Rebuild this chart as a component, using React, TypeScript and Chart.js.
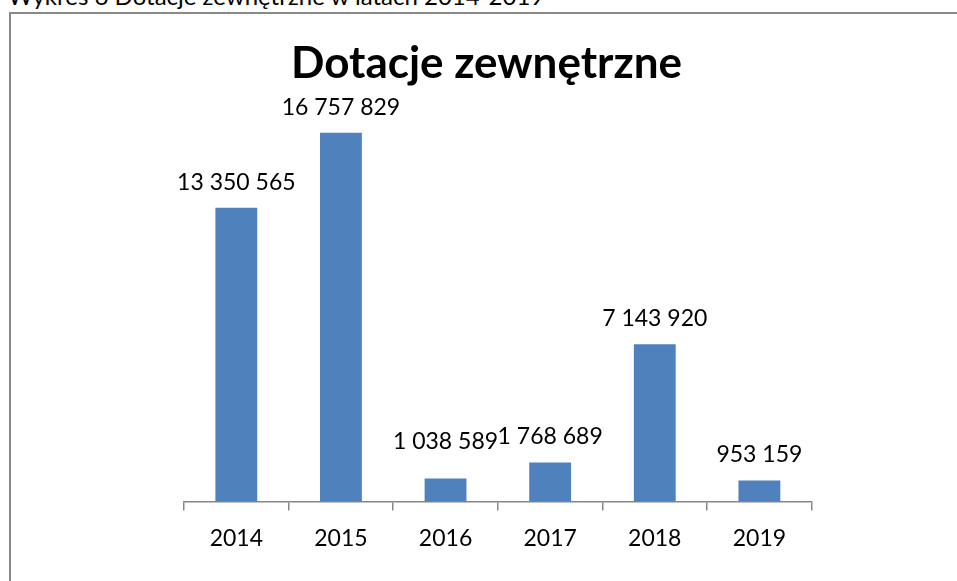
import React, { useEffect, useRef } from "react";
import { Chart, registerables } from "chart.js";

Chart.register(...registerables);

const years = ["2014", "2015", "2016", "2017", "2018", "2019"];
const grants = [13350565, 16757829, 1038589, 1768689, 7143920, 953159];
const yMax = 18000000;
const labelLift = [0, 0, 12, 0, 0, 0];

const pageCaption = "Wykres 6 Dotacje zewnętrzne w latach 2014-2019";
const chartTitle = "Dotacje zewnętrzne";

function fmt(v: number): string {
  return String(v).replace(/\B(?=(\d{3})+(?!\d))/g, " ");
}

const valueLabels = {
  id: "valueLabels",
  afterDatasetsDraw(chart: any) {
    const ctx = chart.ctx;
    const meta = chart.getDatasetMeta(0);
    ctx.save();
    ctx.font = "23px Lato";
    ctx.fillStyle = "#000";
    ctx.textAlign = "center";
    ctx.textBaseline = "alphabetic";
    meta.data.forEach((bar: any, i: number) => {
      ctx.fillText(fmt(grants[i]), bar.x, bar.y - 18 - labelLift[i]);
    });
    ctx.restore();
  },
};

const frame = {
  id: "frame",
  beforeDraw(chart: any) {
    const ctx = chart.ctx;
    ctx.save();
    ctx.strokeStyle = "#898989";
    ctx.lineWidth = 2;
    ctx.beginPath();
    ctx.moveTo(10, chart.height + 5);
    ctx.lineTo(10, 13);
    ctx.lineTo(chart.width + 5, 13);
    ctx.stroke();
    ctx.restore();
  },
};

export default function App() {
  const ref = useRef<HTMLCanvasElement | null>(null);
  useEffect(() => {
    if (!ref.current) return;
    const chart = new Chart(ref.current, {
      type: "bar",
      data: {
        labels: years,
        datasets: [
          {
            data: grants,
            backgroundColor: "#4F81BD",
            borderWidth: 0,
            barPercentage: 0.4,
            categoryPercentage: 1,
          },
        ],
      },
      plugins: [frame, valueLabels],
      options: {
        responsive: false,
        animation: false,
        layout: { padding: { left: 16, right: 0, top: 0, bottom: 15 } },
        plugins: {
          legend: { display: false },
          tooltip: { enabled: false },
          title: {
            display: true,
            text: chartTitle,
            color: "#000",
            font: { family: "Lato", size: 44, weight: "bold" },
            padding: { top: 37.6, bottom: 15 },
          },
        },
        scales: {
          x: {
            grid: {
              drawOnChartArea: false,
              color: "#868686",
              tickLength: 9,
              offset: true,
              lineWidth: 1.5,
            },
            border: { color: "#868686", width: 1.5 },
            ticks: { color: "#000", font: { family: "Lato", size: 23 }, padding: 14 },
          },
          y: {
            min: 0,
            max: yMax,
            ticks: { display: false },
            grid: { display: false },
            border: { display: false },
            afterFit: (s: any) => {
              s.width = 168;
            },
          },
          y2: {
            position: "right",
            ticks: { display: false },
            grid: { display: false },
            border: { display: false },
            afterFit: (s: any) => {
              s.width = 145.3;
            },
          },
        },
      },
    } as any);
    return () => chart.destroy();
  }, []);

  return (
    <div
      style={{
        position: "fixed",
        left: 0,
        top: 0,
        width: 957,
        height: 581,
        overflow: "hidden",
        background: "#fff",
      }}
    >
      <div
        style={{
          position: "absolute",
          left: 8,
          top: -19,
          font: "24px Lato",
          lineHeight: "30px",
          color: "#000",
          whiteSpace: "nowrap",
        }}
      >
        {pageCaption}
      </div>
      <canvas
        ref={ref}
        width={957}
        height={581}
        style={{ position: "absolute", left: 0, top: 0, width: 957, height: 581 }}
      />
    </div>
  );
}
